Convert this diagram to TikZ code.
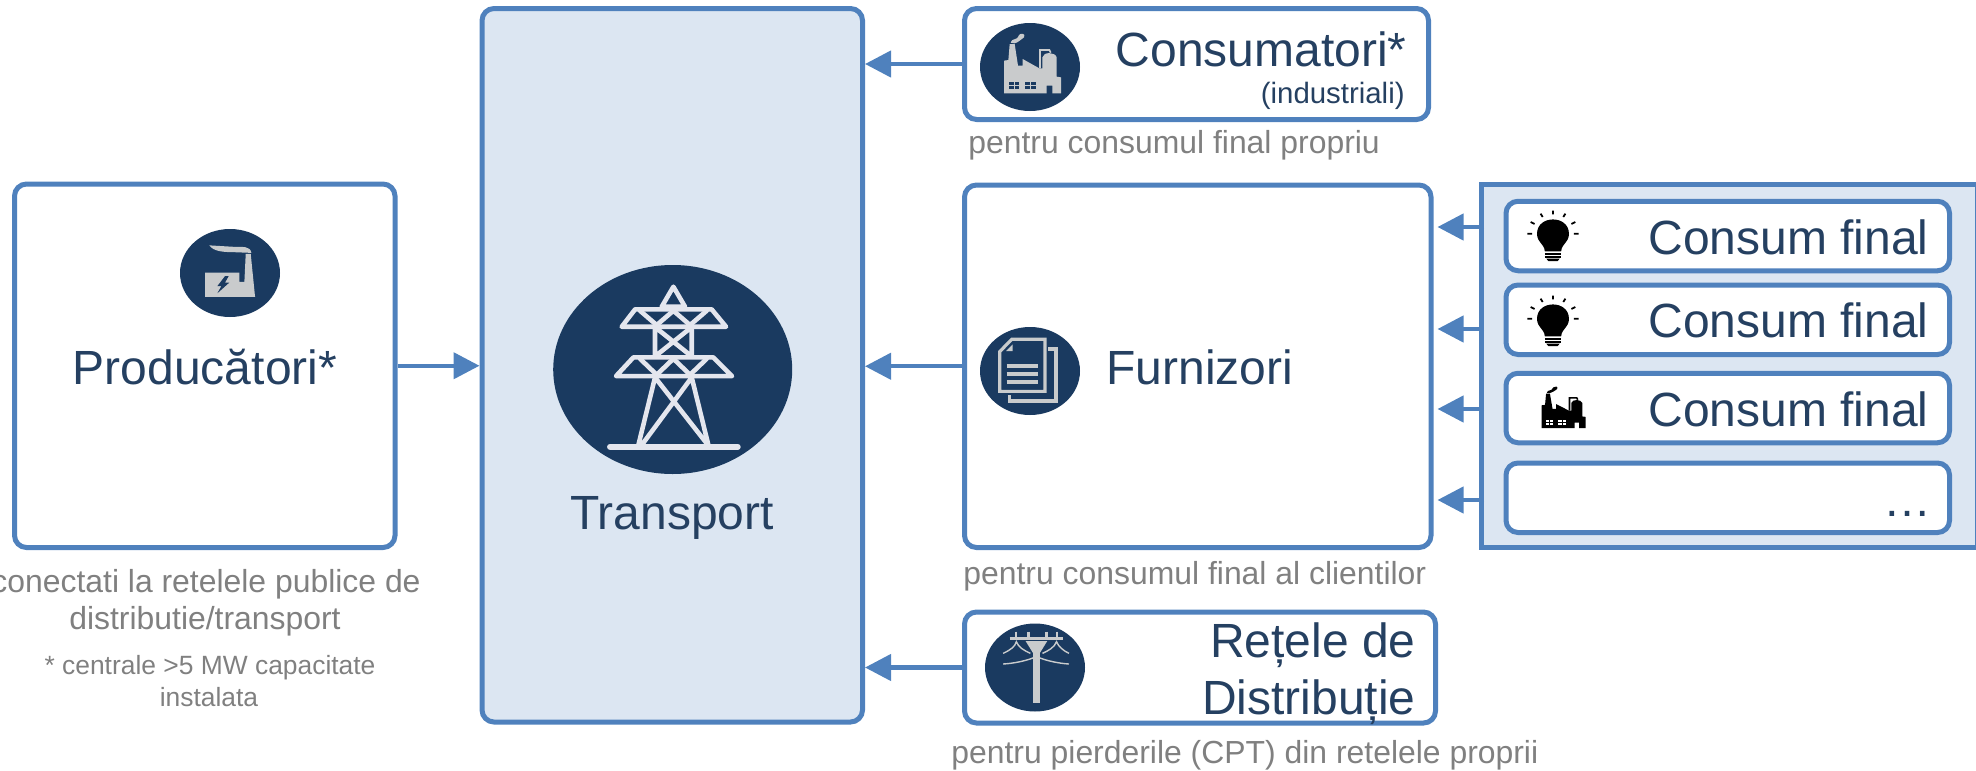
\documentclass[tikz,border=0pt]{standalone}
\usepackage{fontspec}
\setmainfont{Liberation Sans}
\usetikzlibrary{arrows.meta}
\definecolor{lineblue}{HTML}{4F81BD}
\definecolor{paleblue}{HTML}{DCE6F2}
\definecolor{navy}{HTML}{1A3A60}
\definecolor{textnavy}{HTML}{254061}
\definecolor{textgray}{HTML}{808080}
\definecolor{icongray}{HTML}{C9CBCC}
\definecolor{towerwhite}{HTML}{E4E6EE}
\newcommand{\sizeA}{\fontsize{24}{28}\selectfont}
\newcommand{\sizeB}{\fontsize{15.95}{19}\selectfont}
\newcommand{\sizeC}{\fontsize{13.2}{16}\selectfont}
\newcommand{\sizeD}{\fontsize{14.7}{18}\selectfont}
\tikzset{
  roundbox/.style={draw=lineblue,line width=2.5pt,fill=white,rounded corners=6pt,inner sep=0pt},
  palebox/.style={roundbox,fill=paleblue},
  groupbox/.style={draw=lineblue,line width=2.5pt,fill=paleblue,inner sep=0pt},
  conn/.style={draw=lineblue,line width=2.2pt,-{Triangle[length=13pt,width=13pt]}},
  disc/.style={fill=navy},
  big/.style={text=textnavy,inner sep=0pt,font=\sizeA},
  grey/.style={text=textgray,inner sep=0pt,font=\sizeB},
  note/.style={text=textgray,inner sep=0pt,font=\sizeC},
  sub/.style={text=textnavy,inner sep=0pt,font=\sizeD},
}
% #1 shift, #2 x unit, #3 y unit, #4 body colour, #5 window colour
\newcommand{\factoryicon}[5]{%
\begin{scope}[shift={#1},x=#2,y=#3]
  \fill[#4] (162,280) -- (162,182) -- (175,180) -- (179,132) -- (194,132) -- (204,197) -- (218,197) -- (218,177) -- (268,205) -- (277,205) -- (277,172)
     .. controls (280,155) and (315,155) .. (320,172) -- (320,230) -- (333,232) -- (333,280) -- (307,280) -- (307,257) -- (290,257) -- (290,280) -- cycle;
  \draw[#4,line width=.8pt] (270,205) -- (270,150) -- (298,150) -- (302,158);
  \fill[#4] (182,128) .. controls (185,112) and (200,125) .. (207,105) .. controls (212,98) and (228,100) .. (222,112) .. controls (212,118) and (205,128) .. (193,130) -- cycle;
  \fill[#5] (177,245) rectangle (207,266);
  \fill[#5] (225,245) rectangle (257,266);
  \draw[#4,line width=.5pt] (177,255.5) -- (207,255.5) (192,245) -- (192,266) (225,255.5) -- (257,255.5) (241,245) -- (241,266);
\end{scope}}
% #1 shift in picture coordinates
\newcommand{\bulbicon}[1]{%
\begin{scope}[shift={#1},x=.1773pt,y=-.1667pt]
  \fill[black] (352,250) .. controls (350,225) and (330,225) .. (330,197) .. controls (330,140) and (420,140) .. (420,197) .. controls (420,225) and (400,225) .. (398,250) -- cycle;
  \draw[black,line width=.9pt] (352,258) -- (398,258) (352,267) -- (398,267);
  \fill[black] (356,272) -- (394,272) -- (388,279) -- (362,279) -- cycle;
  \draw[black,line width=.9pt] (375,128) -- (375,139) (340,137) -- (346,147) (410,137) -- (404,147)
    (312,162) -- (323,168) (438,162) -- (427,168) (303,197) -- (316,197) (434,197) -- (447,197);
\end{scope}}
\begin{document}
\begin{tikzpicture}[x=.5pt,y=-.5pt]
\useasboundingbox (0,0) rectangle (1976,771);
% boxes
\node[roundbox,minimum width=190.25pt,minimum height=181.75pt] (prod) at (204.75,365.75) {};
\node[palebox,minimum width=190.25pt,minimum height=356.75pt] (trans) at (672.25,365.25) {};
\node[roundbox,minimum width=232pt,minimum height=55.5pt] (cons) at (1196.5,64) {};
\node[roundbox,minimum width=233.25pt,minimum height=181.25pt] (furn) at (1197.75,366.25) {};
\node[roundbox,minimum width=235.5pt,minimum height=55.5pt] (ret) at (1200,667.5) {};
\node[groupbox,minimum width=248pt,minimum height=181.5pt] (grp) at (1729,366) {};
\node[roundbox,minimum width=221.75pt,minimum height=34.75pt] (f1) at (1727.75,236) {};
\node[roundbox,minimum width=221.75pt,minimum height=34.75pt] (f2) at (1727.75,319.75) {};
\node[roundbox,minimum width=221.75pt,minimum height=34.75pt] (f3) at (1727.75,408) {};
\node[roundbox,minimum width=221.75pt,minimum height=34.75pt] (f4) at (1727.75,497.75) {};
% connectors
\draw[conn] (prod.east) -- (prod.east -| trans.west);
\draw[conn] (cons.west) -- (cons.west -| trans.east);
\draw[conn] (furn.west) -- (furn.west -| trans.east);
\draw[conn] (ret.west) -- (ret.west -| trans.east);
\coordinate (c1) at (1484,227);
\coordinate (c2) at (1484,329);
\coordinate (c3) at (1484,409);
\coordinate (c4) at (1484,500);
\draw[conn,shorten >=2pt] (c1) -- (c1 -| furn.east);
\draw[conn,shorten >=2pt] (c2) -- (c2 -| furn.east);
\draw[conn,shorten >=2pt] (c3) -- (c3 -| furn.east);
\draw[conn,shorten >=2pt] (c4) -- (c4 -| furn.east);
% discs
\fill[disc] (230,273) ellipse [x radius=25pt,y radius=22pt];
\fill[disc] (672.7,369.5) ellipse [x radius=59.75pt,y radius=52.25pt];
\fill[disc] (1030,67) ellipse [x radius=25pt,y radius=22pt];
\fill[disc] (1030,371) ellipse [x radius=25pt,y radius=22pt];
\fill[disc] (1035,667.5) ellipse [x radius=25pt,y radius=22pt];
% power plant icon
\begin{scope}[shift={(0,170)},x=.1667pt,y=-.1786pt]
  \fill[icongray] (615,355) -- (615,287) -- (718,287) -- (718,313) -- (733,313) -- (737,235) -- (752,235) -- (765,355) -- cycle;
  \fill[icongray] (628,211) -- (700,215) .. controls (730,216) and (750,212) .. (754,232) -- (700,230) .. controls (670,230) and (640,228) .. (628,211) -- cycle;
  \fill[navy] (675,297) -- (652,325) -- (664,325) -- (652,345) -- (688,315) -- (675,315) -- (686,297) -- cycle;
\end{scope}
% tower icon
\begin{scope}[shift={(470,0)},x=.1667pt,y=-.1667pt,draw=towerwhite,line width=2.3pt,line cap=round,line join=round]
  \draw (610,860) -- (575,920) -- (645,920) -- cycle;
  \draw (495,928) -- (725,928) -- (768,980) -- (455,980) -- cycle;
  \draw (510,932) -- (560,975) -- (610,932) -- (660,975) -- (710,932);
  \draw (555,985) -- (555,1065) (665,985) -- (665,1065) (560,985) -- (660,1065) (660,985) -- (560,1065);
  \draw (490,1072) -- (730,1072) -- (786,1128) -- (438,1128) -- cycle;
  \draw (510,1076) -- (560,1124) -- (610,1076) -- (660,1124) -- (710,1076);
  \draw (555,1132) -- (505,1335) (665,1132) -- (715,1335) (665,1132) -- (515,1335) (555,1132) -- (710,1330);
  \draw[line width=3pt] (420,1340) -- (803,1340);
\end{scope}
% factory icons
\factoryicon{(950,0)}{.1667pt}{-.1667pt}{icongray}{navy}
\factoryicon{(1500,363)}{.1287pt}{-.1162pt}{black}{white}
% documents icon
\begin{scope}[shift={(950,300)},x=.1667pt,y=-.1667pt,draw=icongray,line width=1.6pt]
  \draw (295,147) -- (318,147) -- (318,303) -- (178,303) -- (178,285);
  \draw (185,118) -- (285,118) -- (285,274) -- (149,274) -- (149,155) -- cycle;
  \fill[icongray] (168,153) -- (188,133) -- (188,153) -- cycle;
  \draw[line width=2pt] (170,198) -- (265,198) (170,221) -- (265,221) (170,245) -- (265,245);
\end{scope}
% pole icon
\begin{scope}[shift={(930,590)},x=.2008pt,y=-.1667pt,draw=icongray]
  \fill[icongray] (257,190) -- (273,190) -- (273,340) -- (257,340) -- cycle;
  \fill[icongray] (238,153) -- (292,153) -- (273,190) -- (257,190) -- cycle;
  \draw[line width=1.6pt] (198,145) -- (330,145);
  \draw[line width=1.3pt] (214,125) -- (214,140) (245,125) -- (245,140) (290,125) -- (290,140) (316,125) -- (316,140);
  \draw[line width=.7pt] (182,190) .. controls (200,180) and (212,170) .. (215,155) .. controls (220,172) and (235,182) .. (250,190);
  \draw[line width=.7pt] (280,190) .. controls (295,182) and (310,172) .. (315,155) .. controls (320,170) and (332,182) .. (346,190);
  \draw[line width=.7pt] (182,222) .. controls (210,220) and (240,212) .. (258,203) (272,203) .. controls (290,212) and (320,220) .. (346,222);
\end{scope}
% bulbs
\bulbicon{(1420,168)}
\bulbicon{(1420,253)}
% labels
\node[big,anchor=base] (tprod) at (205,384) {Producători*};
\node[grey,anchor=base] (g1) at (206,592) {conectati la retelele publice de};
\node[grey,anchor=base] (g2) at (205,629) {distributie/transport};
\node[note,anchor=base] (n1) at (210,674) {* centrale >5 MW capacitate};
\node[note,anchor=base] (n2) at (209,706) {instalata};
\node[big,anchor=base] (ttrans) at (672,529) {Transport};
\node[big,anchor=base east] (tcons) at (1407,66) {Consumatori*};
\node[sub,anchor=base east] (tind) at (1405,103) {(industriali)};
\node[grey,anchor=base west] (g3) at (968,153) {pentru consumul final propriu};
\node[big,anchor=base west] (tfurn) at (1106,384) {Furnizori};
\node[grey,anchor=base west] (g4) at (963,584) {pentru consumul final al clientilor};
\node[big,anchor=base east] (tret1) at (1416,657) {Rețele de};
\node[big,anchor=base east] (tret2) at (1416,714) {Distribuție};
\node[grey,anchor=base west] (g5) at (951,763) {pentru pierderile (CPT) din retelele proprii};
\node[big,anchor=base east] (tf1) at (1929,254) {Consum final};
\node[big,anchor=base east] (tf2) at (1929,337) {Consum final};
\node[big,anchor=base east] (tf3) at (1929,426) {Consum final};
\node[big,anchor=base east] (tf4) at (1932,516) {…};
\end{tikzpicture}
\end{document}
